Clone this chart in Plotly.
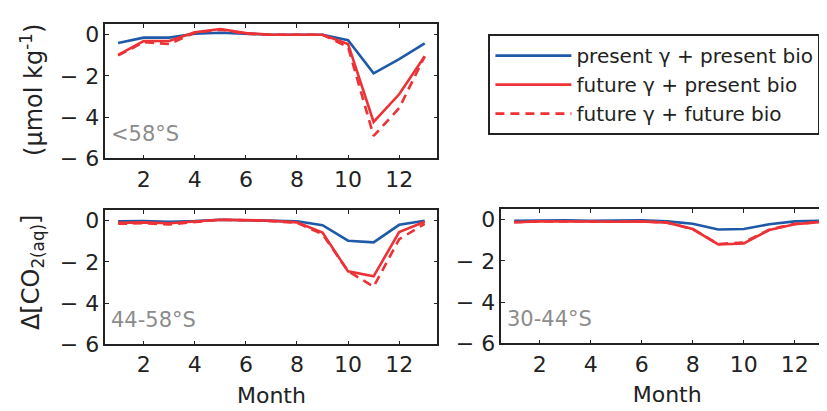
import plotly.graph_objects as go

months = list(range(1, 14))

# <58°S
s1_present = [-0.40, -0.14, -0.14, 0.05, 0.10, 0.04, 0.0, 0.0, 0.0, -0.26, -1.87, -1.18, -0.42]
s1_future_gamma = [-0.98, -0.31, -0.30, 0.12, 0.28, 0.08, 0.0, 0.0, 0.0, -0.45, -4.23, -2.89, -1.04]
s1_future_both = [-1.00, -0.36, -0.45, 0.10, 0.25, 0.05, 0.0, 0.0, 0.0, -0.60, -4.91, -3.56, -1.05]

# 44-58°S
s2_present = [-0.03, -0.02, -0.05, -0.02, 0.05, 0.03, 0.0, -0.03, -0.22, -0.97, -1.05, -0.20, 0.0]
s2_future_gamma = [-0.10, -0.08, -0.12, -0.05, 0.05, 0.03, 0.0, -0.08, -0.58, -2.46, -2.70, -0.55, -0.05]
s2_future_both = [-0.15, -0.12, -0.18, -0.05, 0.05, 0.02, -0.02, -0.10, -0.65, -2.45, -3.20, -0.90, -0.15]

# 30-44°S
s3_present = [-0.05, -0.03, -0.03, -0.05, -0.05, -0.03, -0.08, -0.19, -0.47, -0.45, -0.22, -0.08, -0.05]
s3_future_gamma = [-0.12, -0.08, -0.08, -0.10, -0.10, -0.08, -0.14, -0.45, -1.20, -1.15, -0.50, -0.22, -0.11]
s3_future_both = [-0.12, -0.08, -0.08, -0.10, -0.10, -0.08, -0.14, -0.45, -1.18, -1.10, -0.48, -0.20, -0.11]

region_labels = ["<58°S", "44-58°S", "30-44°S"]
series_names = ["present γ + present bio", "future γ + present bio", "future γ + future bio"]
x_tickvals = [2, 4, 6, 8, 10, 12]
y_tickvals = [0, -2, -4, -6]
y_ticktext = ["0", "\u2212 2", "\u2212 4", "\u2212 6"]

BLUE = "#1f5aa8"
RED = "#ec3237"
FONT = "DejaVu Sans"
TXT = "#222222"

fig = go.Figure()

panels = [
    (s1_present, s1_future_gamma, s1_future_both, "x", "y"),
    (s2_present, s2_future_gamma, s2_future_both, "x2", "y2"),
    (s3_present, s3_future_gamma, s3_future_both, "x3", "y3"),
]

DASH = "9px,6px"
for i, (pres, fg, fb, xa, ya) in enumerate(panels):
    show = i == 0
    fig.add_trace(go.Scatter(x=months, y=pres, mode="lines", xaxis=xa, yaxis=ya,
                             line=dict(color=BLUE, width=2.6), name=series_names[0],
                             showlegend=show, legendrank=1))
    fig.add_trace(go.Scatter(x=months, y=fb, mode="lines", xaxis=xa, yaxis=ya,
                             line=dict(color=RED, width=2.6, dash=DASH), name=series_names[2],
                             showlegend=show, legendrank=3))
    fig.add_trace(go.Scatter(x=months, y=fg, mode="lines", xaxis=xa, yaxis=ya,
                             line=dict(color=RED, width=2.6), name=series_names[1],
                             showlegend=show, legendrank=2))

W, H = 827, 411
def px_x(a, b):
    return [a / W, b / W]
def px_y(top, bottom):
    return [1 - bottom / H, 1 - top / H]

axis_common = dict(
    showgrid=False, zeroline=False, showline=True, linecolor=TXT, linewidth=1.5,
    mirror="ticks", ticks="inside", ticklen=4, tickcolor=TXT,
    tickfont=dict(family=FONT, size=22, color=TXT),
)

domains = [
    (px_x(97.5, 430), px_y(15, 154)),
    (px_x(97.5, 430), px_y(208, 347)),
    (px_x(494, 826), px_y(207, 346)),
]

for i, (dx, dy) in enumerate(domains):
    sfx = "" if i == 0 else str(i + 1)
    xa = dict(axis_common, domain=dx, range=[0.5, 13.5], tickvals=x_tickvals,
              anchor="y" + sfx)
    ya = dict(axis_common, domain=dy, range=[-6, 0.5], tickvals=y_tickvals,
              ticktext=y_ticktext, anchor="x" + sfx)
    if i > 0:
        xa["title"] = dict(text="Month", font=dict(family=FONT, size=22, color=TXT),
                           standoff=11)
    fig.layout["xaxis" + sfx] = xa
    fig.layout["yaxis" + sfx] = ya
    fig.add_annotation(text=region_labels[i], xref=("x" + sfx) + " domain",
                       yref=("y" + sfx) + " domain", x=0.01, y=0.08,
                       xanchor="left", yanchor="bottom", showarrow=False,
                       font=dict(family=FONT, size=21, color="#8c8c8c"))

fig.add_annotation(text="(μmol kg<sup>-1</sup>)",
                   xref="paper", yref="paper", x=24 / W, y=1 - 83 / H,
                   textangle=-90, showarrow=False, xanchor="center", yanchor="middle",
                   font=dict(family=FONT, size=24, color=TXT))
fig.add_annotation(text="Δ[CO<sub>2(aq)</sub>]",
                   xref="paper", yref="paper", x=24 / W, y=1 - 272 / H,
                   textangle=-90, showarrow=False, xanchor="center", yanchor="middle",
                   font=dict(family=FONT, size=24, color=TXT))

fig.update_layout(
    width=W, height=H, margin=dict(l=0, r=0, t=0, b=0),
    paper_bgcolor="white", plot_bgcolor="white",
    legend=dict(x=481 / W, y=1 - 25 / H, xanchor="left", yanchor="top",
                bordercolor=TXT, borderwidth=2, bgcolor="white",
                font=dict(family=FONT, size=20, color=TXT),
                traceorder="normal", itemwidth=76),
)

fig.write_html("out.html")
